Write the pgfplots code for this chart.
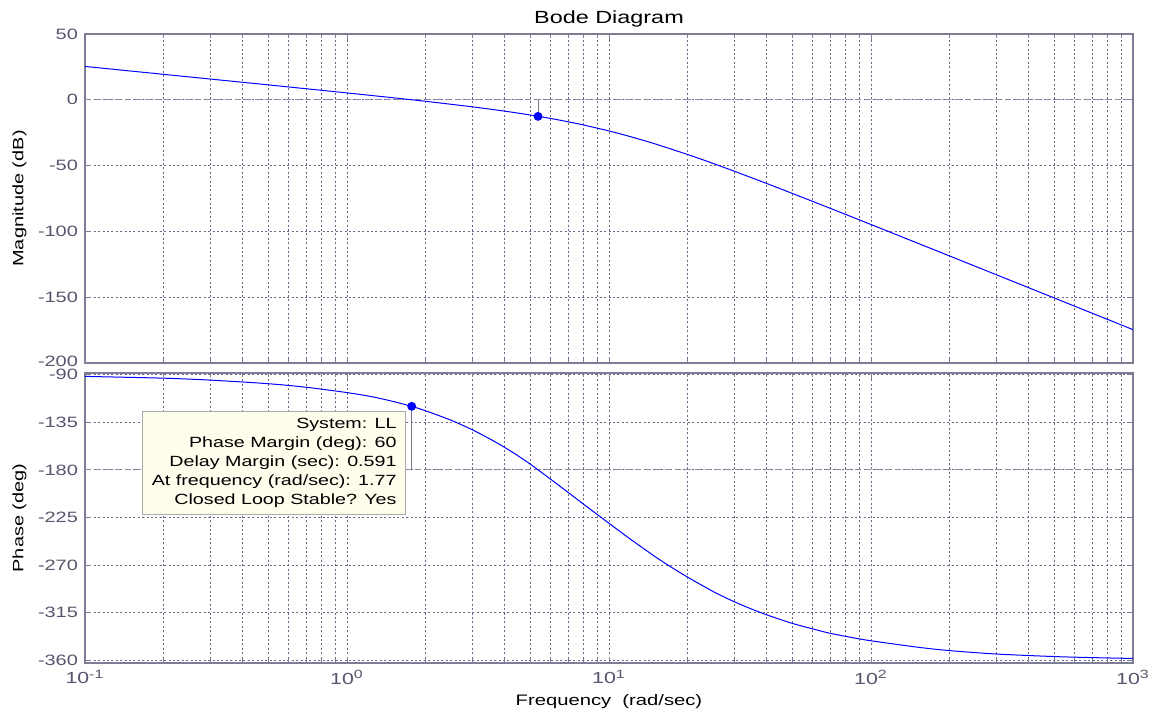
\documentclass[border=0pt]{standalone}
\usepackage{fontspec}
\setmainfont[FakeStretch=1.33]{Liberation Sans}
\usepackage{pgfplots}
\pgfplotsset{compat=1.18}
\definecolor{axc}{RGB}{125,125,150}
\definecolor{gridc}{RGB}{105,105,135}
\definecolor{zlc}{RGB}{140,140,165}
\definecolor{tickc}{RGB}{85,85,110}
\definecolor{tipbg}{RGB}{255,253,236}
\definecolor{tipdraw}{RGB}{170,170,170}
\definecolor{mkl}{RGB}{120,120,135}
\definecolor{pureblue}{RGB}{0,0,255}
\pgfplotsset{/pgf/number format/assume math mode=true}
\pgfplotsset{
 every axis/.append style={
  scale only axis, width=524pt, xmin=0.1, xmax=1000,
  axis line style={axc, line width=0.6pt},
  grid=both,
  major grid style={gridc, dash pattern=on 1pt off 1.2pt, line width=0.4pt},
  minor grid style={gridc, dash pattern=on 1pt off 1.2pt, line width=0.4pt},
  tick style={axc, line width=0.4pt}, tick align=inside,
  xtick pos=both, ytick pos=both,
  major tick length=3pt, minor tick length=2pt,
  xtick={0.1,1,10,100,1000},
  minor xtick={0.2,0.3,0.4,0.5,0.6,0.7,0.8,0.9,2,3,4,5,6,7,8,9,20,30,40,50,60,70,80,90,200,300,400,500,600,700,800,900},
  yticklabel style={font=\fontsize{7.5}{9}\selectfont, text=tickc},
  xticklabel style={font=\fontsize{8}{9}\selectfont, text=tickc},
  ylabel style={font=\fontsize{7.5}{9}\selectfont, at={(axis description cs:-0.049,0.5)}, anchor=south},
  xlabel style={font=\fontsize{7.6}{9}\selectfont, at={(axis description cs:0.5,0)}, anchor=base, yshift=-21pt},
  title style={font=\fontsize{8.8}{10}\selectfont, at={(axis description cs:0.5,1)}, anchor=base, yshift=-0.5pt},
 },
}
\begin{document}
\begin{tikzpicture}
\useasboundingbox (0,0) rectangle (578pt,356.5pt);
\begin{semilogxaxis}[at={(42.5pt,175pt)}, anchor=south west, height=164.5pt,
  ymin=-200, ymax=50, ytick={-200,-150,-100,-50,0,50},
  yticklabels={\raisebox{1.5pt}{-200},-150,-100,-50,0,50},
  xticklabels={}, ylabel={Magnitude (dB)}, title={Bode Diagram}]
\addplot[zlc, dash pattern=on 3pt off 2pt, line width=0.5pt] coordinates {(0.1,0) (1000,0)};
\addplot[pureblue, line width=0.5pt, smooth] table {
w m
0.1 25.36
0.2 19.33
0.3 15.80
0.5 11.35
0.7 8.39
1 5.23
1.5 1.55
2 -1.17
3 -5.31
4 -8.62
5 -11.53
6 -14.21
7 -16.74
8 -19.15
10 -23.67
12 -27.85
15 -33.52
20 -41.63
25 -48.41
30 -54.18
40 -63.60
50 -71.07
70 -82.51
100 -94.77
150 -108.79
200 -118.76
300 -132.83
500 -150.54
700 -162.23
1000 -174.64
};
\addplot[mkl, line width=0.5pt] coordinates {(5.36,-12.6) (5.36,0)};
\addplot[only marks, mark=*, mark size=2pt, pureblue] coordinates {(5.36,-12.6)};
\end{semilogxaxis}
\begin{semilogxaxis}[at={(42.5pt,25pt)}, anchor=south west, height=145pt,
  ymin=-362.5, ymax=-88.5, ytick={-360,-315,-270,-225,-180,-135,-90},
  yticklabels={-360,-315,-270,-225,-180,-135,\raisebox{-1.5pt}{-90}},
  xticklabels={10\textsuperscript{-1},10\textsuperscript{0},10\textsuperscript{1},10\textsuperscript{2},10\textsuperscript{3}},
  ylabel={Phase (deg)}, xlabel={Frequency\ \ (rad/sec)}]
\addplot[zlc, dash pattern=on 3pt off 2pt, line width=0.5pt] coordinates {(0.1,-180) (1000,-180)};
\addplot[pureblue, line width=0.5pt, smooth] table {
w p
0.1 -91.7
0.2 -93.4
0.3 -95.2
0.5 -98.6
0.7 -102.0
1 -107.0
1.25 -111.0
1.5 -115.4
1.766 -120.0
2 -124.3
2.5 -133.2
3 -142.0
3.5 -150.6
4 -158.8
4.5 -166.8
5 -174.5
5.36 -180.0
6 -189.0
7 -201.5
8 -212.5
9 -222.0
10 -230.5
12 -245.0
15 -262.0
17.5 -272.8
20 -281.5
25 -295.0
30 -304.5
35 -311.5
40 -317.0
50 -325.0
60 -330.3
70 -334.5
85 -338.5
100 -341.5
150 -347.5
200 -350.8
300 -354.0
500 -356.4
700 -357.4
1000 -358.2
};
\addplot[mkl, line width=0.5pt] coordinates {(1.766,-120) (1.766,-180)};
\addplot[only marks, mark=*, mark size=2pt, pureblue] coordinates {(1.766,-120)};
\node[draw=tipdraw, line width=0.4pt, fill=tipbg, align=right, anchor=north east,
  font=\fontsize{7.4}{9.5}\selectfont, minimum width=131.5pt, minimum height=51.5pt,
  inner xsep=3pt, inner ysep=2pt, xshift=-2.8pt, yshift=-2.2pt]
  at (axis cs:1.766,-120)
  {System: LL\\Phase Margin (deg): 60\\Delay Margin (sec): 0.591\\At frequency (rad/sec): 1.77\\Closed Loop Stable? Yes};
\end{semilogxaxis}
\end{tikzpicture}
\end{document}
